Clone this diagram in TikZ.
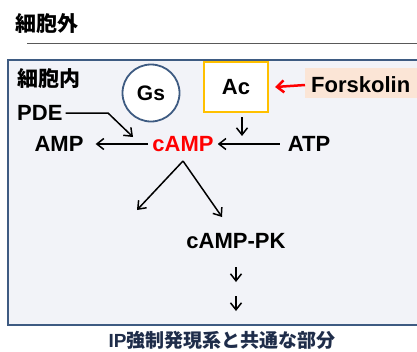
\documentclass[tikz,border=0pt]{standalone}
\usepackage{fontspec}
\setmainfont{Liberation Sans}
\newfontfamily\jp{Noto Sans CJK JP}
\usetikzlibrary{arrows.meta}
\definecolor{cellfill}{HTML}{F2F3F8}
\definecolor{cellborder}{HTML}{3E5B82}
\definecolor{acborder}{HTML}{FFC000}
\definecolor{forskbg}{HTML}{FBE5D6}
\definecolor{bottomtxt}{HTML}{1F2D4A}
\tikzset{
  lbl/.style={font=\fontsize{22}{22}\selectfont\bfseries, inner sep=0pt},
  jplbl/.style={font=\fontsize{21}{21}\selectfont\jp\bfseries, inner sep=0pt},
  arr/.style={line width=1.5pt, -{Straight Barb[length=7pt,width=11pt,line width=1.5pt]}},
  redarr/.style={red, line width=2.5pt, -{Straight Barb[length=7pt,width=12pt,line width=2.5pt]}},
}
\begin{document}
\begin{tikzpicture}[x=1pt,y=-1pt]
\useasboundingbox (0,0) rectangle (417,351);
\clip (0,0) rectangle (417,351);
\node[jplbl, anchor=west] (ext) at (15,24) {細胞外};
\draw[gray!70!black, line width=0.8pt] (27,43) -- (420,43);
\draw[cellborder, fill=cellfill, line width=2pt] (8,60) rectangle (430,325);
\node[jplbl, anchor=west] (intr) at (17,79) {細胞内};
\node[circle, draw=cellborder, fill=white, line width=1.8pt, minimum size=57pt, inner sep=0pt, font=\fontsize{21}{21}\selectfont\bfseries] (gs) at (151,93) {Gs};
\node[draw=acborder, fill=white, line width=2pt, minimum width=64pt, minimum height=50pt, inner sep=0pt, font=\fontsize{22}{22}\selectfont\bfseries] (ac) at (236,87) {Ac};
\fill[forskbg] (305,68) rectangle (420,98);
\node[lbl, anchor=west] (forsk) at (311,85) {Forskolin};
\draw[redarr] ([xshift=-6pt]forsk.west) -- ([xshift=6pt]ac.east);
\node[lbl, anchor=west] (pde) at (17,113) {PDE};
\node[lbl] (amp) at (59,144) {AMP};
\node[lbl, red] (camp) at (183,144) {cAMP};
\node[lbl] (atp) at (309,144) {ATP};
\node[lbl] (campk) at (236,241) {cAMP-PK};
\coordinate (pdebend) at (108,113);
\coordinate (pdeend) at (133,137);
\draw[arr] ([xshift=3pt]pde.east) -- (pdebend) -- (pdeend);
\draw[arr] ([xshift=-4pt]camp.west) -- ([xshift=12pt]amp.east);
\draw[arr] ([xshift=-8pt]atp.west) -- ([xshift=4pt]camp.east);
\coordinate (acdown1) at (242,117);
\coordinate (acdown2) at (242,136);
\draw[arr] (acdown1) -- (acdown2);
\coordinate (split) at (183,161);
\coordinate (lend) at (137,210);
\coordinate (rend) at (222,217);
\draw[arr] (split) -- (lend);
\draw[arr] (split) -- (rend);
\coordinate (d1a) at (236,267);
\coordinate (d1b) at (236,282);
\coordinate (d2a) at (236,296);
\coordinate (d2b) at (236,311);
\draw[arr] (d1a) -- (d1b);
\draw[arr] (d2a) -- (d2b);
\node[inner sep=0pt, text=bottomtxt, font=\fontsize{19}{19}\selectfont\bfseries] (bottom) at (222,340) {IP{\jp 強制発現系と共通な部分}};
\end{tikzpicture}
\end{document}
